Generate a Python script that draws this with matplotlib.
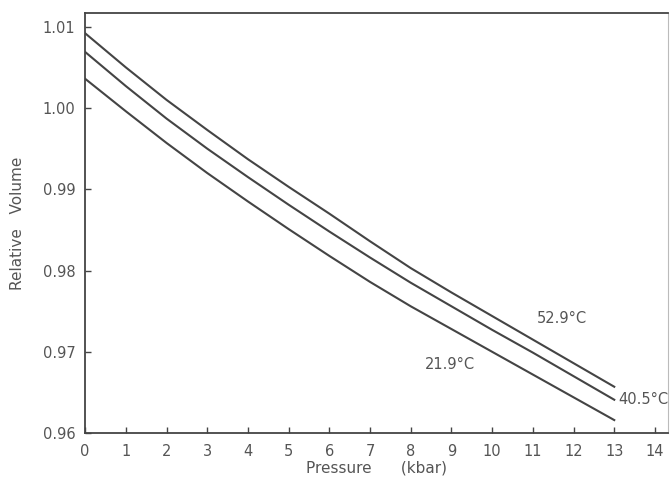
import numpy as np
import matplotlib.pyplot as plt

# pressure (kbar) and relative volume
pressure = [0, 1, 2, 3, 4, 5, 6, 7, 8, 9, 10, 11, 12, 13]
v_21_9 = [1.0036, 0.9996, 0.9957, 0.9920, 0.9885, 0.9851, 0.9818,
          0.9786, 0.9756, 0.9728, 0.9700, 0.9672, 0.9644, 0.9616]
v_40_5 = [1.0069, 1.0027, 0.9987, 0.9950, 0.9915, 0.9881, 0.9848,
          0.9816, 0.9785, 0.9756, 0.9727, 0.9699, 0.9670, 0.9641]
v_52_9 = [1.0092, 1.0050, 1.0010, 0.9973, 0.9937, 0.9903, 0.9870,
          0.9836, 0.9803, 0.9773, 0.9744, 0.9715, 0.9686, 0.9657]

xticks = list(range(0, 15))
yticks = [0.96, 0.97, 0.98, 0.99, 1.00, 1.01]
ytick_labels = ["0.96", "0.97", "0.98", "0.99", "1.00", "1.01"]

ink = "#444444"
txt = "#555555"

fig = plt.figure(figsize=(6.7, 4.78), dpi=100)
ax = fig.add_axes([0.127, 0.094, 0.870, 0.879])

for v in (v_21_9, v_40_5, v_52_9):
    ax.plot(pressure, v, color=ink, lw=1.5)

ax.set_xlim(0, 14.32)
ax.set_ylim(0.96, 1.0117)
ax.set_xticks(xticks)
ax.set_xticklabels([str(t) for t in xticks])
ax.set_yticks(yticks)
ax.set_yticklabels(ytick_labels)
ax.tick_params(direction="in", length=4, width=1.0, color=ink,
               labelcolor=txt, labelsize=10.5)
ax.tick_params(axis="x", pad=8)
ax.tick_params(axis="y", pad=7)

for side in ("left", "bottom", "top"):
    ax.spines[side].set_color(ink)
    ax.spines[side].set_linewidth(1.3)
ax.spines["right"].set_color("#bbbbbb")
ax.spines["right"].set_linewidth(0.8)

ax.set_xlabel("Pressure      (kbar)", color=txt, fontsize=11, labelpad=1)
ax.set_ylabel("Relative   Volume", color=txt, fontsize=11, labelpad=13)

ax.text(11.72, 0.9741, "52.9\u00b0C", color=txt, fontsize=10.5,
        ha="center", va="center")
ax.text(8.97, 0.9684, "21.9\u00b0C", color=txt, fontsize=10.5,
        ha="center", va="center")
ax.text(13.1, 0.9641, "40.5\u00b0C", color=txt, fontsize=10.5,
        ha="left", va="center", clip_on=False)

fig.savefig("out.png", dpi=100)
